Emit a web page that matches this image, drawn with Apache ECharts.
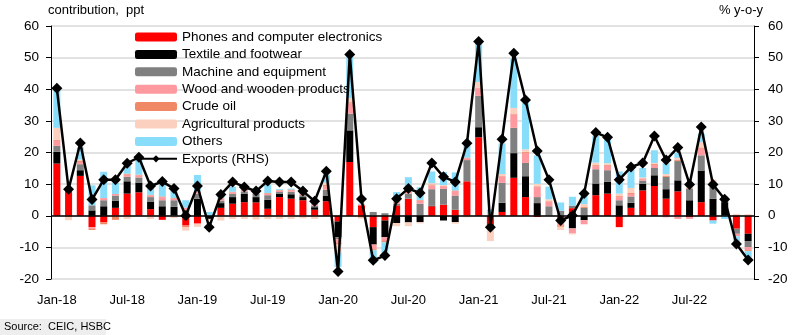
<!DOCTYPE html>
<html><head><meta charset="utf-8">
<script src="https://cdn.jsdelivr.net/npm/echarts@6/dist/echarts.min.js"></script>
<style>html,body{margin:0;padding:0;background:#fff}#c{width:792px;height:335px}</style>
</head><body><div id="c"></div>
<script>
const months = ["Jan","Feb","Mar","Apr","May","Jun","Jul","Aug","Sep","Oct","Nov","Dec"];
const years = ["18","19","20","21","22"];
const categories = [];
years.forEach(y => months.forEach(m => categories.push(m + "-" + y)));

const phones = [16.5,7.8,12.6,-3.6,-2.0,2.5,7.0,7.4,2.1,-1.3,0,-3.1,
  -2.5,0,2.5,3.8,4.3,4.2,2.2,5.9,5.4,4.9,1.9,4.6,
  -1.8,17,3.3,-3.6,-1.5,3.3,5.4,0,3.0,3.5,1.9,10.9,
  24.8,-3.5,1.2,12.0,5.9,-0.4,0,-1.0,2.4,0,6.5,7.0,
  -3.6,2.5,8.0,9.4,5.4,7.7,-0.5,4.3,-1.5,0,-4.1,-5.7];
const textile = [3.7,0,1.8,1.7,3.0,2.3,3.9,3.1,2.4,3.0,2.8,0.3,
  5.4,-1.0,1.5,2.1,2.6,1.7,2.9,1.0,1.4,1.0,0.8,1.8,
  -5.0,10,0,-5.5,-5.3,-2.3,-2.1,-2.0,0.2,-1.5,-2.0,0,
  3.2,0,2.9,7.8,6.6,4.0,0,0,-4.0,-1.4,3.7,3.7,
  3.3,1.6,2.1,3.4,3.0,3.5,4.9,10.0,5.4,4.3,0,-2.3];
const machine = [1.9,0,1.9,1.6,1.9,1.6,1.4,1.6,1.4,1.9,2.1,1.5,
  1.6,0,0.8,1.0,0.8,1.0,1.4,0.6,0.8,0.6,0.5,1.8,
  -0.6,5.3,0,1.2,0.8,0.5,1.6,3.8,5.2,5.0,4.5,6.7,
  9.9,0,6.3,8.0,4.2,1.9,3.0,1.6,0.8,2.5,4.5,3.7,
  1.6,2.0,1.0,2.3,3.9,6.1,3.7,4.8,3.7,1.0,-1.6,-1.9];
const wood = [1.6,0,0.7,-0.6,0.7,0.5,0.7,0.7,0.5,1.0,0.5,0.8,
  0.5,0,0.5,0.5,0.5,0.5,0.5,0.4,0.5,0.4,0.5,1.0,
  -1.2,3.2,0.3,-1.5,-1.2,0.5,1.0,1.0,1.2,0.8,1.4,0.6,
  2.4,0.5,2.1,4.2,3.2,3.2,1.4,-2.0,-1.6,-1.3,1.0,1.4,
  1.0,0.8,0.5,1.0,-0.5,-1.0,-0.5,2.1,1.0,0.3,-0.8,-1.0];
const crude = [0.3,-0.4,0.3,-0.3,-0.7,-1.3,0.3,0.2,0.2,0.2,0.2,-0.6,
  0.2,0,0.2,0.2,0.2,0.2,0.2,0.2,0.2,0.2,0.2,0.5,
  -0.5,0.4,-0.6,-0.3,-0.4,0.2,0.2,0.2,0.3,0.2,0.2,0.2,
  0.2,-0.5,0.2,0.3,0.3,0.2,0.2,-0.5,0,0.4,0.3,0.3,
  0.3,0.3,0.2,0.3,0.3,0.3,0.2,0.4,0.3,0.2,0.3,-0.3];
const agri = [3.8,-1.0,0.5,0,0,0,-1.0,-0.4,-1.0,0,-0.7,-1.0,
  -1.0,-0.5,-1.5,-1.0,-1.0,-1.2,-1.0,-1.0,-1.0,-0.8,-1.0,0.8,
  -2.6,1.3,-0.3,0,0,-1.0,-1.2,-0.4,0.4,0.2,-0.5,-0.5,
  1.8,-4.0,0.5,1.8,0.8,0.8,0.6,-1.0,-0.3,0.8,0.8,0.5,
  0.8,1.6,0.3,0.3,0.6,0.7,0.2,1.7,1.0,0.4,0.3,0.5];
const others = [12,0,3.8,6.3,8.3,3.5,3.5,4.8,2.6,4.2,2.7,2.3,
  5.2,1.2,1.6,1.6,0.3,0.3,2.6,0.3,0.3,0.2,0,2.5,
  -4.5,13,0.2,-4.0,-3.5,3.0,4.0,4.0,3.7,4.1,5.7,3.7,
  12.5,1.5,9.7,15.6,14.6,9.0,4.0,2.6,2.8,3.3,8.5,8.5,
  7.0,5.8,3.0,4.0,3.4,1.6,0.2,2.6,-1.0,-1.0,-2.3,-2.0];
const exportsYoY = [40.3,8.4,23,5.1,11.4,11.4,16.6,18.5,9.4,10.8,8.6,0,
  9.4,-3.6,6.7,10.7,9.1,7.8,11.0,10.7,10.7,7.8,4.6,14.1,
  -17.6,51,5.3,-14.1,-12.6,5.4,8.6,7.2,16.7,12.3,10.7,22.9,
  55.1,-3.6,24.2,51.4,36.6,20.5,11.4,-1.5,0.1,7.0,26.3,24.8,
  11.4,15.4,16.7,25.2,17.6,21.6,9.9,28.1,9.9,5.2,-8.9,-14.0];

const seriesNames = ["Phones and computer electronics","Textile and footwear","Machine and equipment",
  "Wood and wooden products","Crude oil","Agricultural products","Others","Exports (RHS)"];
const barData = [phones, textile, machine, wood, crude, agri, others];
const barColors = ["#FF0000","#000000","#808080","#FF99A0","#F08866","#FBD0BE","#87DDFA"];

const FONT = "Liberation Sans, Arial, sans-serif";
const series = barData.map((d, i) => {
  const s = {
    name: seriesNames[i], type: "bar", stack: "c", stackStrategy: "samesign",
    data: d, barWidth: 7, itemStyle: {color: barColors[i]}, yAxisIndex: 0
  };
  if (i === 0) {
    s.markLine = {silent: true, symbol: "none", label: {show: false},
      lineStyle: {color: "#000", width: 1.5, type: "solid"}, data: [{yAxis: 0}], z: 5};
  }
  return s;
});
series.push({
  name: seriesNames[7], type: "line", data: exportsYoY, yAxisIndex: 1,
  symbol: "diamond", symbolSize: 11, showSymbol: true, showAllSymbol: true,
  lineStyle: {color: "#000", width: 2.5},
  itemStyle: {color: "#000"}, z: 10
});

const chart = echarts.init(document.getElementById("c"), null, {renderer: "canvas"});
chart.setOption({
  animation: false,
  textStyle: {fontFamily: FONT},
  grid: {left: 51, right: 38, top: 26, bottom: 56},
  legend: {
    orient: "vertical", left: 129, top: 25, itemWidth: 42, itemHeight: 9, itemGap: 3.4,
    data: seriesNames, textStyle: {fontSize: 13.5, color: "#000", fontFamily: FONT}
  },
  xAxis: {
    type: "category", data: categories, boundaryGap: true,
    axisLine: {show: false}, axisTick: {show: false},
    axisLabel: {interval: 5, color: "#000", fontSize: 13, margin: 15, fontFamily: FONT}
  },
  yAxis: [
    {type: "value", min: -20, max: 60, interval: 10,
     axisLine: {show: true, lineStyle: {color: "#000", width: 1}},
     axisTick: {show: true, length: 5, lineStyle: {color: "#000"}},
     axisLabel: {color: "#000", fontSize: 13.5, margin: 12, fontFamily: FONT},
     splitLine: {show: true, lineStyle: {color: "#d9d9d9", width: 1.5}}},
    {type: "value", min: -20, max: 60, interval: 10,
     axisLine: {show: true, lineStyle: {color: "#000", width: 1}},
     axisTick: {show: true, length: 5, lineStyle: {color: "#000"}},
     axisLabel: {color: "#000", fontSize: 13.5, margin: 14, fontFamily: FONT},
     splitLine: {show: false}}
  ],
  graphic: [
    {type: "text", left: 48, top: 4, style: {text: "contribution,  ppt", font: "13px " + FONT, fill: "#000"}},
    {type: "text", right: 29, top: 4, style: {text: "% y-o-y", font: "13px " + FONT, fill: "#000"}},
    {type: "rect", left: 0, top: 319, shape: {width: 106, height: 16}, style: {fill: "#eeeeee"}},
    {type: "text", left: 4, top: 321, style: {text: "Source:  CEIC, HSBC", font: "11px " + FONT, fill: "#000"}}
  ],
  series: series
});
</script></body></html>
